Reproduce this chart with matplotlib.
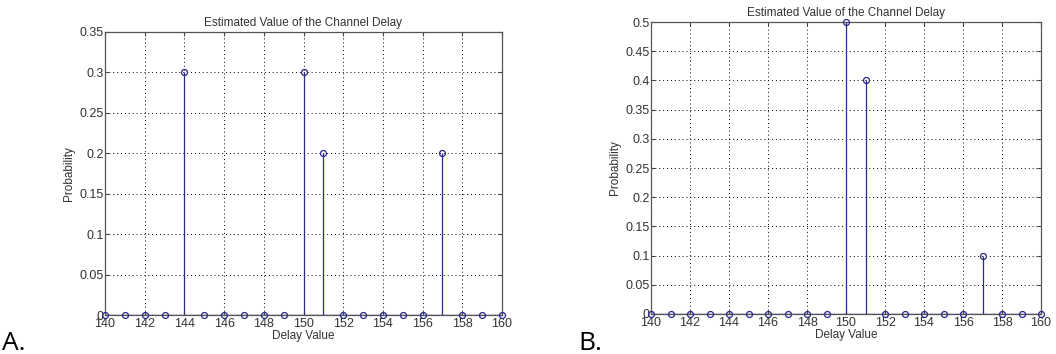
import numpy as np
import matplotlib
matplotlib.use("Agg")
import matplotlib.pyplot as plt

# delay values and estimated probabilities
delays = list(range(140, 161))
prob_a = [0, 0, 0, 0, 0.3, 0, 0, 0, 0, 0, 0.3, 0.2, 0, 0, 0, 0, 0, 0.2, 0, 0, 0]
prob_b = [0, 0, 0, 0, 0, 0, 0, 0, 0, 0, 0.5, 0.4, 0, 0, 0, 0, 0, 0.1, 0, 0, 0]
xticks = list(range(140, 161, 2))
yticks_a = [0, 0.05, 0.1, 0.15, 0.2, 0.25, 0.3, 0.35]
yticks_b = [0, 0.05, 0.1, 0.15, 0.2, 0.25, 0.3, 0.35, 0.4, 0.45, 0.5]

plt.rcParams['font.family'] = ['Liberation Sans', 'DejaVu Sans']
stem_color = '#2a2a86'

fig = plt.figure(figsize=(10.56, 3.54), dpi=100)
W, H = 1056, 354


def stem_panel(rect, values, yticks, label, label_xy):
    l, t, r, b = rect
    ax = fig.add_axes([l / W, 1 - b / H, (r - l) / W, (b - t) / H])
    ml, sl, bl = ax.stem(delays, values, basefmt=' ')
    plt.setp(sl, color=stem_color, linewidth=0.9)
    plt.setp(ml, marker='o', markersize=4.3, markerfacecolor='none',
             markeredgecolor=stem_color, markeredgewidth=0.9, clip_on=False, zorder=5)
    ax.axhline(0, color=stem_color, linewidth=1.0, zorder=1)
    ax.set_xlim(140, 160)
    ax.set_ylim(yticks[0], yticks[-1])
    ax.set_xticks(xticks)
    ax.set_yticks(yticks)
    ax.set_yticklabels(['0'] + [('%g' % v) for v in yticks[1:]])
    ax.grid(True, color='black', linestyle=(0, (1, 3)), linewidth=0.7)
    ax.tick_params(direction='in', top=True, right=True, labelsize=9,
                   length=3, color='#444444', labelcolor='#333333', pad=1)
    ax.tick_params(axis='x', pad=2)
    for s in ax.spines.values():
        s.set_color('#555555')
        s.set_linewidth(0.9)
    ax.set_title('Estimated Value of the Channel Delay', fontsize=8.5, color='#333333', pad=4)
    ax.set_xlabel('Delay Value', fontsize=8.5, color='#333333', labelpad=0)
    ax.set_ylabel('Probability', fontsize=8.5, color='#333333', labelpad=3)
    fig.text(label_xy[0] / W, 1 - label_xy[1] / H, label, fontsize=19,
             family=['Open Sans', 'DejaVu Sans'], va='bottom', ha='left')
    return ax


stem_panel((105, 32, 502, 315), prob_a, yticks_a, 'A.', (2, 356))
stem_panel((651, 22, 1041, 314), prob_b, yticks_b, 'B.', (578, 356))

fig.savefig('out.png', dpi=100)
